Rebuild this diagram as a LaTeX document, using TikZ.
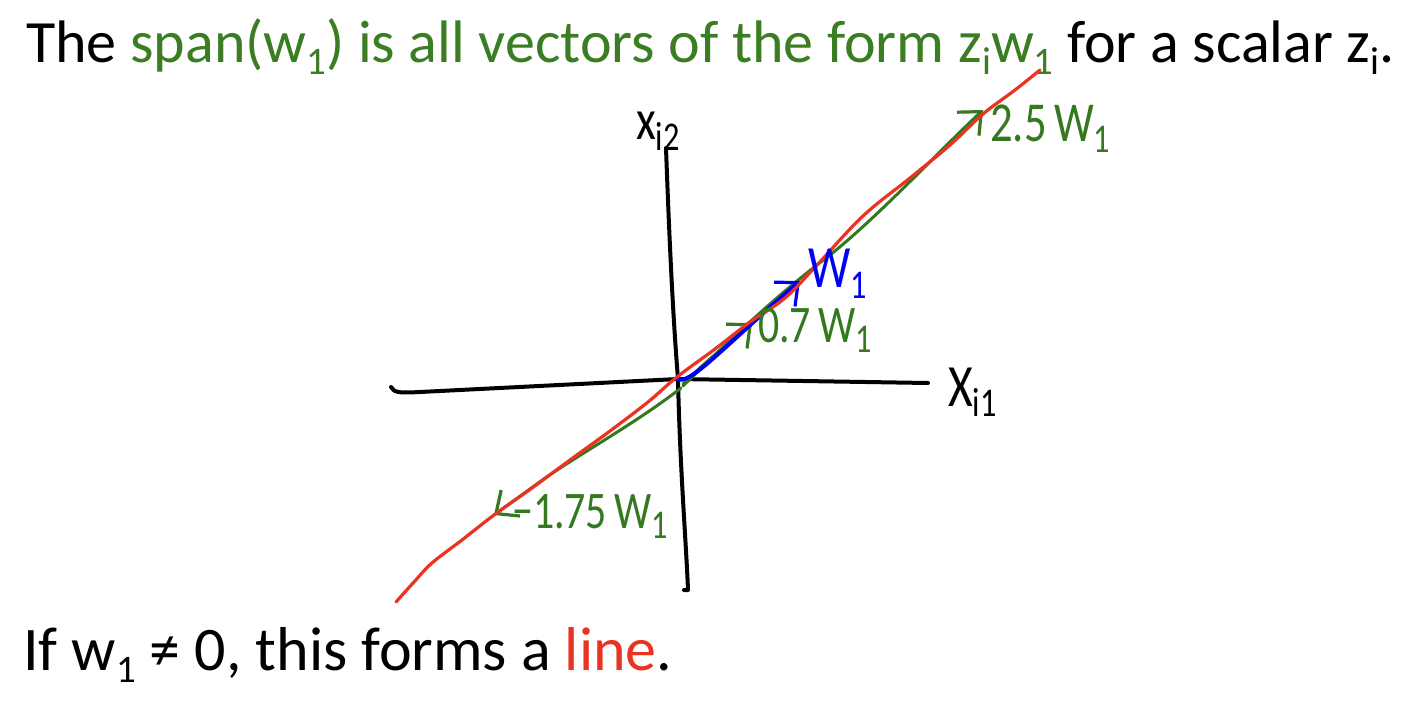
\documentclass[tikz,border=0pt]{standalone}
\usepackage{fontspec}
\setmainfont{Carlito}
\usetikzlibrary{arrows.meta}
\definecolor{tgreen}{RGB}{58,125,34}
\definecolor{hgreen}{RGB}{52,120,32}
\definecolor{hred}{RGB}{234,51,35}
\definecolor{hblue}{RGB}{0,0,245}
\newcommand{\sbs}[1]{\raisebox{-12pt}{\fontsize{39}{39}\selectfont #1}}
\newcommand{\hsb}[1]{\raisebox{-9pt}{\fontsize{34}{34}\selectfont #1}}
\newcommand{\tall}[1]{\scalebox{0.95}[1.2]{#1}}
\tikzset{
  txt/.style={anchor=base west, inner sep=0pt, font=\fontsize{60}{70}\selectfont},
  hand/.style={anchor=base west, inner sep=0pt, font=\fontsize{44}{50}\selectfont},
  axis/.style={line width=4pt, line cap=round, line join=round, black},
  redline/.style={line width=3.2pt, line cap=round, line join=round, hred},
  greenline/.style={line width=3pt, line cap=round, line join=round, hgreen},
  bluevec/.style={line width=4pt, line cap=round, line join=round, hblue},
  handtip/.style={-{Straight Barb[length=18pt,width=32pt,line width=3.2pt]}}
}
\begin{document}
\begin{tikzpicture}[x=1pt,y=-1pt]
\useasboundingbox (0,0) rectangle (1412,708);
\fill[white] (0,0) rectangle (1412,708);

% texts
\node[txt] (title) at (26,63) {The \textcolor{tgreen}{span(w\sbs{1}) is all vectors of the form z\sbs{i}w\sbs{1}} for a scalar z\sbs{i}.};
\node[txt, font=\fontsize{62}{70}\selectfont] (concl) at (23,670) {If w\sbs{1} ≠ 0, this forms a \textcolor{hred}{line}.};

% coordinates
\coordinate (O) at (678,379);
\coordinate (xl) at (391,387);
\coordinate (xr) at (928,383);
\coordinate (yt) at (666,148);
\coordinate (yb) at (688,590);
\coordinate (t25) at (983,110);
\coordinate (t07) at (752,323);
\coordinate (tm175) at (494,515);
\coordinate (tw) at (800,281);

% axes
\draw[axis] (xl) .. controls (394,393) and (400,393) .. (420,392) -- (O) -- (xr);
\draw[axis] (yt) .. controls (670,260) and (674,330) .. (O) .. controls (680,470) and (686,540) .. (yb) -- (684,590);
\node[hand, font=\fontsize{48}{56}\selectfont] (xi2) at (636,140) {\tall{x\hsb{i2}}};
\node[hand, font=\fontsize{50}{56}\selectfont] (xi1) at (948,406) {\tall{X\hsb{i1}}};

% green span vectors
\draw[greenline, handtip] (683,386) .. controls (720,350) and (770,300) .. (830,255)
   .. controls (880,215) and (940,150) .. (t25);
\draw[greenline, handtip] (683,384) .. controls (705,362) and (730,342) .. (t07);
\draw[greenline, handtip] (681,388) .. controls (640,420) and (590,448) .. (548,476) -- (tm175);

% blue w1
\draw[bluevec, handtip] (O) .. controls (690,385) and (720,350) .. (tw);

% red line
\draw[redline] plot[smooth, tension=0.6] coordinates {(396,602) (414,582) (432,563) (462,540) (494,515) (532,488) (570,460) (610,431) (648,402) (677,377) (715,349) (750,322) (785,298) (817,265) (863,216) (910,178) (950,145) (983,114) (1015,90) (1040,70)};

% labels
\node[hand, text=hgreen, font=\fontsize{47}{56}\selectfont] (l25) at (990,142) {\tall{2.5\,W\hsb{1}}};
\node[hand, text=hblue, font=\fontsize{50}{56}\selectfont] (lw) at (808,288) {\tall{W\hsb{1}}};
\node[hand, text=hgreen] (l07) at (758,342) {\tall{0.7\,W\hsb{1}}};
\node[hand, text=hgreen] (lm175) at (512,528) {\tall{−1.75\,W\hsb{1}}};
\end{tikzpicture}
\end{document}
